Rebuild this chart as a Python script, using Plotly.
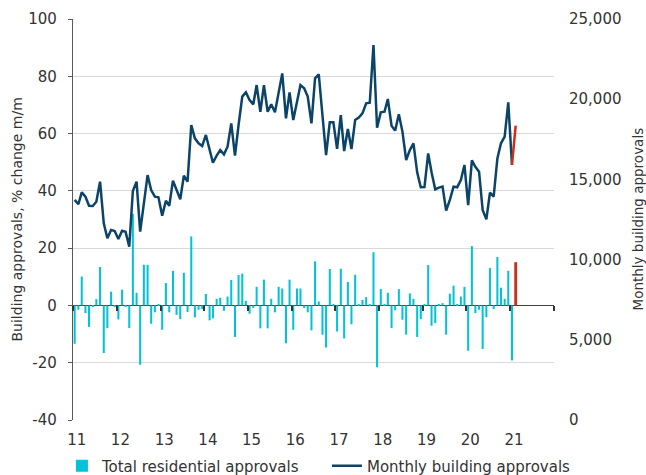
import pandas as pd
import plotly.graph_objects as go

# Monthly data, Jan 2011 .. Feb 2021
months = pd.date_range("2011-01-01", periods=122, freq="MS")

pct_change = [-13.4, -1.5, 10.1, -2.7, -7.5, -0.3, 2.2, 13.4, -16.6, -7.9,
              4.8, -0.6, -4.9, 5.5, -0.3, -7.9, 32.0, 4.4, -20.7, 14.2,
              14.2, -6.4, -2.4, 0.3, -8.5, 7.8, -2.4, 12.1, -3.3, -4.8,
              11.4, -2.3, 24.1, -4.2, -1.5, -1.3, 4.0, -5.2, -4.5, 2.3,
              2.7, -1.9, 3.1, 8.9, -11.0, 10.6, 11.1, 1.6, -2.9, -0.9,
              6.5, -8.0, 9.0, -8.0, 2.3, -2.4, 6.5, 5.9, -13.2, 9.0,
              -8.5, 5.9, 5.9, -0.9, -2.4, -8.7, 15.4, 1.4, -10.2, -14.7,
              12.7, 0.5, -9.1, 12.8, -11.5, 8.2, -6.6, 10.7, 0.3, 1.9,
              2.9, 0.2, 18.6, -21.6, 5.7, 0.3, 4.4, -7.9, -1.7, 5.7,
              -5.0, -10.2, 4.2, 2.3, -11.0, -4.8, 0.2, 14.1, -7.1, -6.2,
              0.5, 0.8, -10.2, 4.1, 6.9, 0.2, 3.1, 6.5, -15.8, 20.7,
              -2.7, -1.5, -15.2, -4.1, 13.0, -1.3, 16.9, 6.2, 2.3, 12.1,
              -19.2, 15.1]

approvals = [13720, 13450, 14190, 13920, 13360, 13340, 13610, 14860, 12260, 11330,
             11850, 11780, 11280, 11800, 11740, 10810, 14280, 14860, 11740, 13610,
             15270, 14340, 13920, 13880, 12740, 13670, 13360, 14920, 14340, 13760,
             15230, 14860, 18390, 17560, 17250, 17080, 17770, 16830, 16040, 16480,
             16830, 16560, 17040, 18490, 16480, 18390, 20160, 20430, 19950, 19680,
             20880, 19220, 20880, 19220, 19680, 19180, 20470, 21610, 18810, 20430,
             18700, 19950, 20880, 20680, 20160, 18490, 21300, 21550, 19120, 16520,
             18560, 18560, 16900, 19010, 16770, 18140, 16890, 18700, 18850, 19120,
             19740, 19780, 23380, 18220, 19180, 19220, 20010, 18350, 18040, 19060,
             17980, 16210, 16830, 17250, 15440, 14510, 14520, 16620, 15440, 14380,
             14490, 14550, 13050, 13720, 14550, 14510, 14960, 15900, 13400, 16190,
             15790, 15480, 13090, 12510, 14170, 13920, 16310, 17250, 17660, 19800,
             15900, 18350]

year_labels = ["11", "12", "13", "14", "15", "16", "17", "18", "19", "20", "21"]
left_ticks = [-40, -20, 0, 20, 40, 60, 80, 100]
left_tick_labels = ["-40", "-20", "0", "20", "40", "60", "80", "100"]

CYAN = "#00c3d7"
NAVY = "#0b4468"
RED = "#c9301a"
FONT = "DejaVu Sans"
TXT = "#333333"
FS = 15

x = months + pd.Timedelta(days=14)
n = len(x)
BAR_W = 17 * 86400000  # bar width in ms
RED_W = 24 * 86400000

fig = go.Figure()
fig.add_trace(go.Bar(x=x[:n - 1], y=pct_change[:n - 1], marker_color=CYAN, width=BAR_W,
                     marker_line_width=0, name="Total residential approvals"))
fig.add_trace(go.Bar(x=x[n - 1:], y=pct_change[n - 1:], marker_color=RED, width=RED_W,
                     marker_line_width=0, showlegend=False))
fig.add_trace(go.Scatter(x=x[:n - 1], y=approvals[:n - 1], mode="lines", yaxis="y2",
                         line=dict(color=NAVY, width=2.5), name="Monthly building approvals"))
fig.add_trace(go.Scatter(x=x[n - 2:], y=approvals[n - 2:], mode="lines", yaxis="y2",
                         line=dict(color=RED, width=2.5), showlegend=False))
# invisible trace to activate the tick axis drawn along the zero line
fig.add_trace(go.Scatter(x=[x[0]], y=[0], xaxis="x2", mode="markers",
                         marker=dict(opacity=0), showlegend=False, hoverinfo="skip"))

xr = ["2011-01-01", "2022-01-01"]
tick_years = [d.strftime("%Y-%m-%d") for d in pd.date_range("2011-01-01", "2022-01-01", freq="YS")]
label_pos = [d.strftime("%Y-%m-%d") for d in pd.date_range("2011-02-01", periods=len(year_labels), freq="12MS")]

fig.update_layout(
    width=646, height=475,
    margin=dict(l=73, r=92, t=19, b=55, autoexpand=False),
    paper_bgcolor="white", plot_bgcolor="white",
    barmode="overlay",
    font=dict(family=FONT, size=FS, color=TXT),
    showlegend=True,
    legend=dict(orientation="h", x=-0.023, xanchor="left", y=-0.115, yanchor="middle",
                font=dict(size=FS, color=TXT), entrywidth=220, entrywidthmode="pixels",
                bgcolor="rgba(0,0,0,0)"),
    xaxis=dict(range=xr, type="date", showgrid=False, zeroline=False, showline=False,
               tickvals=label_pos, ticktext=year_labels, ticks="outside",
               ticklen=6, tickcolor="rgba(0,0,0,0)"),
    xaxis2=dict(range=xr, type="date", overlaying="x", anchor="free",
                position=40 / 140, side="bottom", showgrid=False, zeroline=False,
                showline=False, tickvals=tick_years, showticklabels=False,
                ticks="outside", ticklen=5, tickcolor="#333333", tickwidth=1.5),
    yaxis=dict(range=[-40, 100], tickvals=left_ticks, ticktext=left_tick_labels,
               showgrid=True, gridcolor="#d9d9d9",
               gridwidth=1, zeroline=True, zerolinecolor="#404040", zerolinewidth=1.3,
               showline=True, linecolor="#595959", linewidth=1.3, ticks="outside",
               ticklen=4, tickcolor="#595959", ticklabelstandoff=8),
    yaxis2=dict(range=[0, 25000], dtick=5000, overlaying="y", side="right",
                showgrid=False, zeroline=False, showline=False, tickformat=",",
                ticklabelstandoff=14),
    annotations=[
        dict(text="Building approvals, % change m/m", xref="paper", yref="paper",
             x=(16 - 73) / 481, y=0.5, textangle=-90, showarrow=False,
             xanchor="center", yanchor="middle", font=dict(size=14, color=TXT)),
        dict(text="Monthly building approvals", xref="paper", yref="paper",
             x=(637 - 73) / 481, y=0.5, textangle=-90, showarrow=False,
             xanchor="center", yanchor="middle", font=dict(size=13.5, color=TXT)),
    ],
)

fig.write_html("out.html", config={"displayModeBar": False},
               post_script="document.body.style.margin='0';document.body.style.overflow='hidden';")
